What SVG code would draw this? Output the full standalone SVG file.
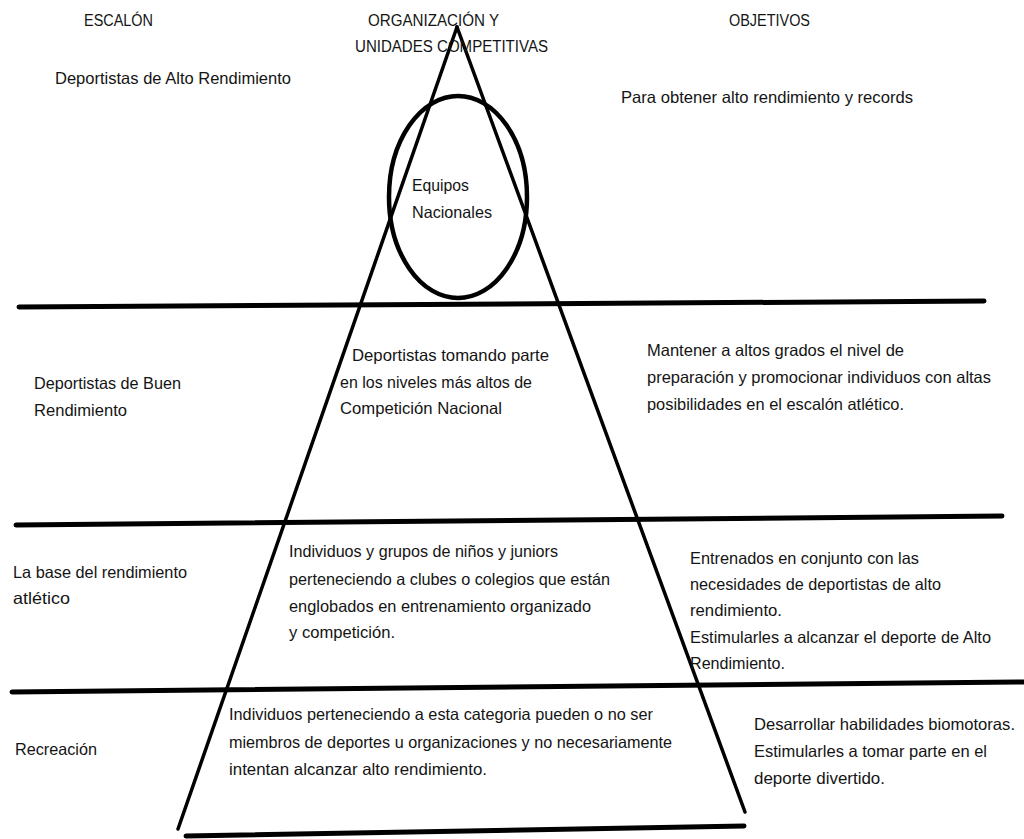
<svg xmlns="http://www.w3.org/2000/svg" width="1024" height="839" viewBox="0 0 1024 839">
<style>
text{font-family:"Liberation Sans",Arial,sans-serif;font-size:16.5px;fill:#141414}
.h{font-size:16px}
.band{stroke:#000;stroke-width:5;stroke-linecap:round;fill:none}
.leg{stroke:#000;stroke-width:3.5;stroke-linecap:round;fill:none}
</style>
<rect width="1024" height="839" fill="#fff"/>
<g id="connectors">
<line class="band" x1="19" y1="307" x2="984" y2="301"/>
<line class="band" x1="16" y1="525" x2="1002" y2="516"/>
<line class="band" x1="12" y1="692" x2="1024" y2="682"/>
<line class="band" x1="186" y1="836" x2="744" y2="826"/>
<line class="leg" x1="457" y1="27" x2="178" y2="829"/>
<line class="leg" x1="457" y1="27" x2="745" y2="812"/>
</g>
<g id="node-equipos">
<ellipse cx="458" cy="197" rx="69" ry="101" fill="none" stroke="#000" stroke-width="4.5"/>
<text x="412" y="191" textLength="57" lengthAdjust="spacingAndGlyphs">Equipos</text>
<text x="412" y="218" textLength="80" lengthAdjust="spacingAndGlyphs">Nacionales</text>
</g>
<g id="headers">
<text class="h" x="84" y="26" textLength="69" lengthAdjust="spacingAndGlyphs">ESCALÓN</text>
<text class="h" x="368" y="26" textLength="131" lengthAdjust="spacingAndGlyphs">ORGANIZACIÓN Y</text>
<text class="h" x="355" y="52" textLength="193" lengthAdjust="spacingAndGlyphs">UNIDADES COMPETITIVAS</text>
<text class="h" x="729" y="26" textLength="81" lengthAdjust="spacingAndGlyphs">OBJETIVOS</text>
</g>
<g id="row1">
<text x="55" y="84" textLength="236" lengthAdjust="spacingAndGlyphs">Deportistas de Alto Rendimiento</text>
<text x="621" y="103" textLength="292" lengthAdjust="spacingAndGlyphs">Para obtener alto rendimiento y records</text>
</g>
<g id="row2">
<text x="34" y="389" textLength="147" lengthAdjust="spacingAndGlyphs">Deportistas de Buen</text>
<text x="34" y="416" textLength="93" lengthAdjust="spacingAndGlyphs">Rendimiento</text>
<text x="352" y="361" textLength="197" lengthAdjust="spacingAndGlyphs">Deportistas tomando parte</text>
<text x="340" y="388" textLength="192" lengthAdjust="spacingAndGlyphs">en los niveles más altos de</text>
<text x="340" y="414" textLength="162" lengthAdjust="spacingAndGlyphs">Competición Nacional</text>
<text x="647" y="356" textLength="257" lengthAdjust="spacingAndGlyphs">Mantener a altos grados el nivel de</text>
<text x="647" y="383" textLength="344" lengthAdjust="spacingAndGlyphs">preparación y promocionar individuos con altas</text>
<text x="647" y="410" textLength="257" lengthAdjust="spacingAndGlyphs">posibilidades en el escalón atlético.</text>
</g>
<g id="row3">
<text x="13" y="578" textLength="174" lengthAdjust="spacingAndGlyphs">La base del rendimiento</text>
<text x="13" y="604" textLength="57" lengthAdjust="spacingAndGlyphs">atlético</text>
<text x="289" y="557" textLength="269" lengthAdjust="spacingAndGlyphs">Individuos y grupos de niños y juniors</text>
<text x="289" y="585" textLength="321" lengthAdjust="spacingAndGlyphs">perteneciendo a clubes o colegios que están</text>
<text x="289" y="612" textLength="302" lengthAdjust="spacingAndGlyphs">englobados en entrenamiento organizado</text>
<text x="289" y="638" textLength="106" lengthAdjust="spacingAndGlyphs">y competición.</text>
<text x="690" y="564" textLength="229" lengthAdjust="spacingAndGlyphs">Entrenados en conjunto con las</text>
<text x="690" y="590" textLength="251" lengthAdjust="spacingAndGlyphs">necesidades de deportistas de alto</text>
<text x="690" y="616" textLength="92" lengthAdjust="spacingAndGlyphs">rendimiento.</text>
<text x="690" y="643" textLength="301" lengthAdjust="spacingAndGlyphs">Estimularles a alcanzar el deporte de Alto</text>
<text x="690" y="669" textLength="95" lengthAdjust="spacingAndGlyphs">Rendimiento.</text>
</g>
<g id="row4">
<text x="15" y="755" textLength="82" lengthAdjust="spacingAndGlyphs">Recreación</text>
<text x="229" y="720" textLength="424" lengthAdjust="spacingAndGlyphs">Individuos perteneciendo a esta categoria pueden o no ser</text>
<text x="229" y="748" textLength="443" lengthAdjust="spacingAndGlyphs">miembros de deportes u organizaciones y no necesariamente</text>
<text x="229" y="775" textLength="258" lengthAdjust="spacingAndGlyphs">intentan alcanzar alto rendimiento.</text>
<text x="754" y="730" textLength="261" lengthAdjust="spacingAndGlyphs">Desarrollar habilidades biomotoras.</text>
<text x="754" y="757" textLength="233" lengthAdjust="spacingAndGlyphs">Estimularles a tomar parte en el</text>
<text x="754" y="784" textLength="131" lengthAdjust="spacingAndGlyphs">deporte divertido.</text>
</g>
</svg>
